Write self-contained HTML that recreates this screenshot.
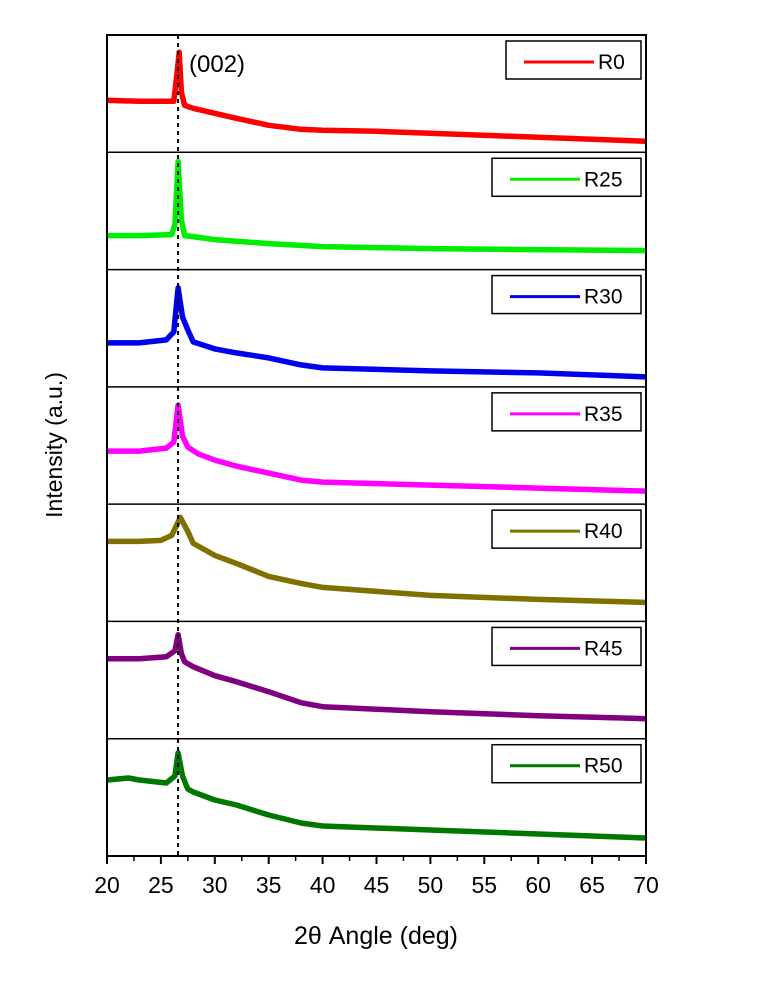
<!DOCTYPE html>
<html><head><meta charset="utf-8"><style>
body{margin:0;background:#fff}
svg{display:block;font-family:"Liberation Sans",sans-serif}
</style></head><body>
<svg id="chart" width="760" height="998" viewBox="0 0 760 998" xmlns="http://www.w3.org/2000/svg">
<g id="plot"></g>
<text x="0" y="0" transform="translate(62,445) rotate(-90)" text-anchor="middle" font-size="23" fill="#000">Intensity (a.u.)</text>
<text x="376" y="944" text-anchor="middle" font-size="25" fill="#000">2θ Angle (deg)</text>
<text x="189" y="72" font-size="24" fill="#000">(002)</text>
</svg>
<script>
const samples=["R0","R25","R30","R35","R40","R45","R50"];
const colors=["#ff0000","#00ee00","#0000ee","#ff00ff","#807000","#800080","#007700"];
const angles=[[20,23,26.2,26.5,26.7,26.9,27.2,28,30,32,35,38,40,45,50,60,70],
[20,23,26,26.3,26.6,26.9,27.2,28,30,35,40,50,60,70],
[20,23,25.5,26.2,26.6,27.0,27.5,28,30,32,35,38,40,50,60,70],
[20,23,25.5,26.2,26.6,27.0,27.5,28.5,30,32,35,38,40,50,60,70],
[20,23,25,26,26.8,27.5,28,30,32,35,38,40,50,60,70],
[20,23,25.5,26.3,26.6,26.9,27.2,28,30,32,35,38,40,50,60,70],
[20,22,23,25.5,26.3,26.6,27,27.5,28,30,32,35,38,40,50,60,70]];
const intensities=[[52,51,51,80,100,60,47,44,39,34,27,23,22,21,19,15,11],
[34,34,35,45,108,50,34,33,30,26,23,21,20,19],
[44,44,47,55,99,70,57,45,38,34,29,22,19,16,14,10],
[53,53,56,62,99,68,57,50,44,38,31,24,22,19,16,13],
[80,80,81,86,104,90,78,66,58,45,38,34,26,22,19],
[80,80,82,88,104,85,77,72,63,57,47,36,32,27,23,20],
[76,78,76,73,80,103,80,67,64,56,51,41,33,30,26,22,18]];
const xTicks=[20,25,30,35,40,45,50,55,60,65,70];
const peakAngle=26.5;
const X0=107,X1=646,TOP=35,BOT=856,PH=(BOT-TOP)/7;
const xs=v=>X0+(v-20)/(70-20)*(X1-X0);
const ys=(i,v)=>TOP+(i+1)*PH-v;
const NS="http://www.w3.org/2000/svg";
const g=document.getElementById("plot");
function mk(t,a){const e=document.createElementNS(NS,t);for(const k in a)e.setAttribute(k,a[k]);g.appendChild(e);return e;}
samples.forEach((s,i)=>{
  const top=TOP+i*PH;
  const d=angles[i].map((a,j)=>(j?"L":"M")+xs(a).toFixed(1)+","+ys(i,intensities[i][j]).toFixed(1)).join("");
  const p=mk("path",{d:d,fill:"none",stroke:colors[i],"stroke-width":5.5,"stroke-linejoin":"round"});
  
  
  const lw=s==="R0"?135:149;
  const lx=641-lw, ly=top+6;
  const r=mk("rect",{x:lx,y:ly,width:lw,height:38,fill:"#fff",stroke:"#000","stroke-width":1.5});
  
  
  const l=mk("line",{x1:lx+18,x2:lx+88,y1:ly+21,y2:ly+21,stroke:colors[i],"stroke-width":3});
  
  
  const t=mk("text",{x:lx+92,y:ly+28,"font-size":21,fill:"#000"});
  t.textContent=s;
  
  
  if(i>0){const b=mk("line",{x1:X0,x2:X1,y1:top,y2:top,stroke:"#000","stroke-width":1.5});
  
  }
});
const dl=mk("line",{x1:xs(peakAngle)+1,x2:xs(peakAngle)+1,y1:TOP,y2:BOT,stroke:"#000","stroke-width":2,"stroke-dasharray":"4,4"});


const fr=mk("rect",{x:X0,y:TOP,width:X1-X0,height:BOT-TOP,fill:"none",stroke:"#000","stroke-width":2});


xTicks.forEach((v,k)=>{
  const tk=mk("line",{x1:xs(v),x2:xs(v),y1:BOT,y2:BOT+8,stroke:"#000","stroke-width":2});
  
  
  if(k<xTicks.length-1){const m=mk("line",{x1:xs(v+2.5),x2:xs(v+2.5),y1:BOT,y2:BOT+5,stroke:"#000","stroke-width":1.5});
  
  }
  const t=mk("text",{x:xs(v),y:BOT+37,"text-anchor":"middle","font-size":23,fill:"#000"});
  t.textContent=v;
  
  
});
</script>
</body></html>
